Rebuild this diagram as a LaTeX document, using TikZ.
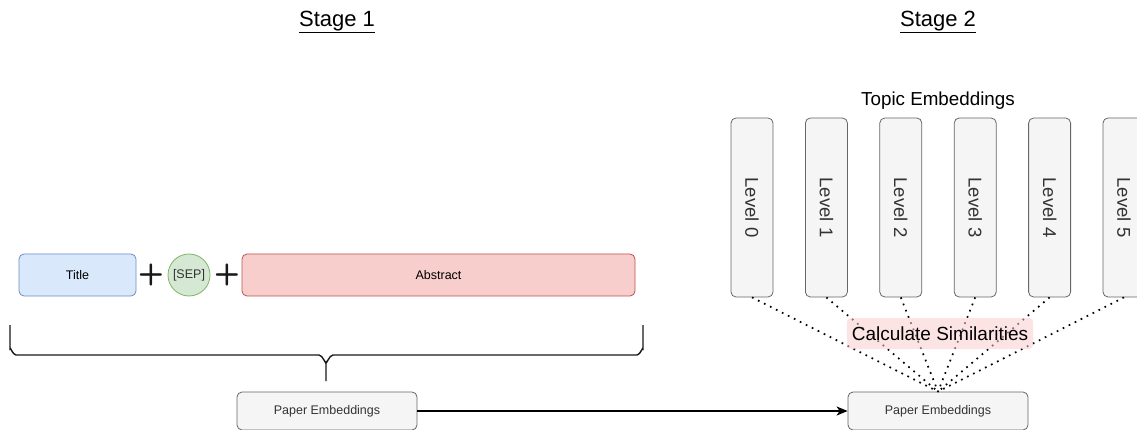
\documentclass[tikz,border=0pt]{standalone}
\usepackage{fontspec}
\setmainfont{Liberation Sans}
\usetikzlibrary{arrows.meta}
\definecolor{blueF}{HTML}{DAE8FC}\definecolor{blueD}{HTML}{6C8EBF}
\definecolor{greenF}{HTML}{D5E8D4}\definecolor{greenD}{HTML}{82B366}
\definecolor{redF}{HTML}{F8CECC}\definecolor{redD}{HTML}{B85450}
\definecolor{grayF}{HTML}{F5F5F5}\definecolor{grayD}{HTML}{666666}
\definecolor{txt}{HTML}{333333}
\tikzset{
  box/.style={draw, rounded corners=5pt, line width=0.8pt, inner sep=0pt, font=\fontsize{12.5}{14}\selectfont},
  graybox/.style={box, fill=grayF, draw=grayD, text=txt},
  levelbox/.style={graybox, rotate=-90, minimum width=179pt, minimum height=42pt, font=\fontsize{18.5}{20}\selectfont},
  plus/.style={inner sep=0pt, text=black!90, font=\sffamily\bfseries\fontsize{30}{30}\selectfont},
  heading/.style={inner sep=0pt, font=\fontsize{22}{24}\selectfont},
  brace/.style={line width=1.4pt, color=black!90},
  dots/.style={line width=1.7pt, dash pattern=on 1.7pt off 5pt, line cap=butt},
}
\begin{document}
\begin{tikzpicture}[x=1pt,y=-1pt]
\useasboundingbox (0,0) rectangle (1137,430);
\clip (0,0) rectangle (1137,430);
% headings
\node[heading] (s1) at (337,22) {\underline{Stage 1}};
\node[heading] (s2) at (938,22) {\underline{Stage 2}};
% stage 1 inputs
\node[box, fill=blueF, draw=blueD, minimum width=117pt, minimum height=42pt] (title) at (77.5,275) {Title};
\node[plus] (p1) at (151,275) {+};
\node[circle, draw=greenD, fill=greenF, line width=0.8pt, minimum size=42pt, inner sep=0pt, text=txt, font=\fontsize{12.5}{14}\selectfont] (sep) at (189,275) {[SEP]};
\node[plus] (p2) at (227,275) {+};
\node[box, fill=redF, draw=redD, minimum width=393pt, minimum height=42pt] (abs) at (438.5,275) {Abstract};
% brace
\draw[brace] (10,325) -- (10,349) to[out=90,in=180] (16,355) -- (319,355) to[out=0,in=-90] (326,362) -- (326,381);
\draw[brace] (643,325) -- (643,349) to[out=90,in=0] (637,355) -- (333,355) to[out=180,in=-90] (326,362);
% paper embeddings
\node[graybox, minimum width=180pt, minimum height=38pt] (pe1) at (327,411) {Paper Embeddings};
\node[graybox, minimum width=180pt, minimum height=38pt] (pe2) at (938,411) {Paper Embeddings};
\draw[line width=1.6pt, -{Stealth[length=11pt,width=9pt,inset=3pt]}] (pe1.east) -- (pe2.west);
% topic embeddings
\node[inner sep=0pt, font=\fontsize{18.8}{20}\selectfont] (te) at (938,101) {Topic Embeddings};
\foreach \i in {0,...,5}{
  \node[levelbox] (L\i) at (752+74.4*\i,207.5) {Level \i};
}
\foreach \i in {0,...,5}{
  \draw[dots] (L\i.east) -- (pe2.north);
}
\node[rounded corners=4pt, fill=redF, fill opacity=0.55, text opacity=1, inner xsep=5pt, minimum height=31pt, font=\fontsize{19}{20}\selectfont] (cs) at (940,333.5) {Calculate Similarities};
\end{tikzpicture}
\end{document}
